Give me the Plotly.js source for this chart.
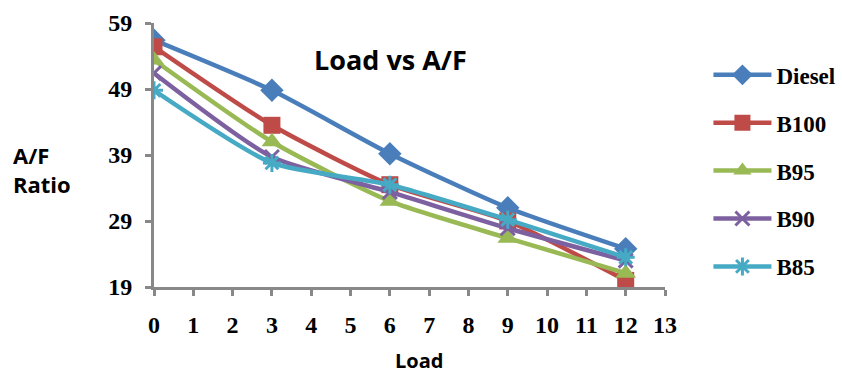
<!DOCTYPE html>
<html>
<head>
<meta charset="utf-8">
<script src="https://cdn.plot.ly/plotly-3.0.1.min.js"></script>
<style>html,body{margin:0;padding:0;background:#fff;}#chart{width:842px;height:376px;}</style>
</head>
<body>
<div id="chart"></div>
<script>
const load = [0, 3, 6, 9, 12];
const seriesNames = ["Diesel", "B100", "B95", "B90", "B85"];
const diesel = [56.4, 48.8, 39.2, 31.0, 24.8];
const b100 = [55.4, 43.5, 34.5, 29.0, 20.0];
const b95 = [53.4, 41.0, 32.0, 26.4, 21.1];
const b90 = [51.4, 38.7, 33.4, 27.9, 23.0];
const b85 = [48.8, 37.8, 34.5, 29.2, 23.5];
const xTicks = [0,1,2,3,4,5,6,7,8,9,10,11,12,13];
const yTicks = [19, 29, 39, 49, 59];

const colors = ["#4A7EBB", "#BE4B48", "#98B954", "#7D60A0", "#46AAC5"];
const symbols = ["diamond", "square", "triangle-up", "x-thin-open", "asterisk-open"];
const sizes = [18, 17, 18, 14, 15];
const values = [diesel, b100, b95, b90, b85];

const traces = values.map((v, i) => ({
  x: load, y: v, name: seriesNames[i], type: "scatter", mode: "lines+markers",
  legendgroup: "g" + i,
  line: {color: colors[i], width: 4.5, shape: "spline", smoothing: 0.6},
  marker: {symbol: symbols[i], size: sizes[i], color: colors[i],
           line: {color: colors[i], width: (i >= 3 ? 3 : 0)}}
}));

const tickFont = {family: "Liberation Serif, serif", size: 24, color: "#000", weight: "bold"};
const layout = {
  width: 842, height: 376,
  margin: {l: 154, r: 177, t: 23, b: 89, autoexpand: false},
  paper_bgcolor: "#fff", plot_bgcolor: "#fff",
  showlegend: true,
  legend: {x: 1.085, y: 0.885, xanchor: "left", yanchor: "top",
           font: {family: "Liberation Serif, serif", size: 23, color: "#000", weight: "bold"},
           traceorder: "grouped", tracegroupgap: 15, itemwidth: 58, bgcolor: "rgba(0,0,0,0)"},
  xaxis: {range: [0, 13], tickvals: xTicks, ticktext: xTicks.map(String), automargin: false,
          showgrid: false, zeroline: false, showline: true, linecolor: "#888", linewidth: 3,
          ticks: "outside", ticklen: 6, tickwidth: 3, tickcolor: "#888",
          tickfont: tickFont, ticklabelstandoff: 8},
  yaxis: {range: [19, 59], tickvals: yTicks, ticktext: yTicks.map(String), automargin: false,
          showgrid: false, zeroline: false, showline: true, linecolor: "#888", linewidth: 3,
          ticks: "outside", ticklen: 6, tickwidth: 3, tickcolor: "#888",
          tickfont: tickFont, ticklabelstandoff: 8},
  annotations: [
    {text: "<b>Load vs A/F</b>", xref: "paper", yref: "paper", x: 0.463, y: 0.86,
     xanchor: "center", yanchor: "middle", showarrow: false,
     font: {family: "Open Sans, Liberation Sans, sans-serif", size: 27, color: "#000"}},
    {text: "<b>A/F<br>Ratio</b>", xref: "paper", yref: "paper", x: -0.28, y: 0.445,
     xanchor: "left", yanchor: "middle", align: "left", showarrow: false,
     font: {family: "Open Sans, Liberation Sans, sans-serif", size: 22, color: "#000"}},
    {text: "<b>Load</b>", xref: "paper", yref: "paper", x: 0.518, y: -0.28,
     xanchor: "center", yanchor: "middle", showarrow: false,
     font: {family: "Open Sans, Liberation Sans, sans-serif", size: 20, color: "#000"}}
  ]
};
Plotly.newPlot("chart", traces, layout, {displayModeBar: false, staticPlot: true});
</script>
</body>
</html>
